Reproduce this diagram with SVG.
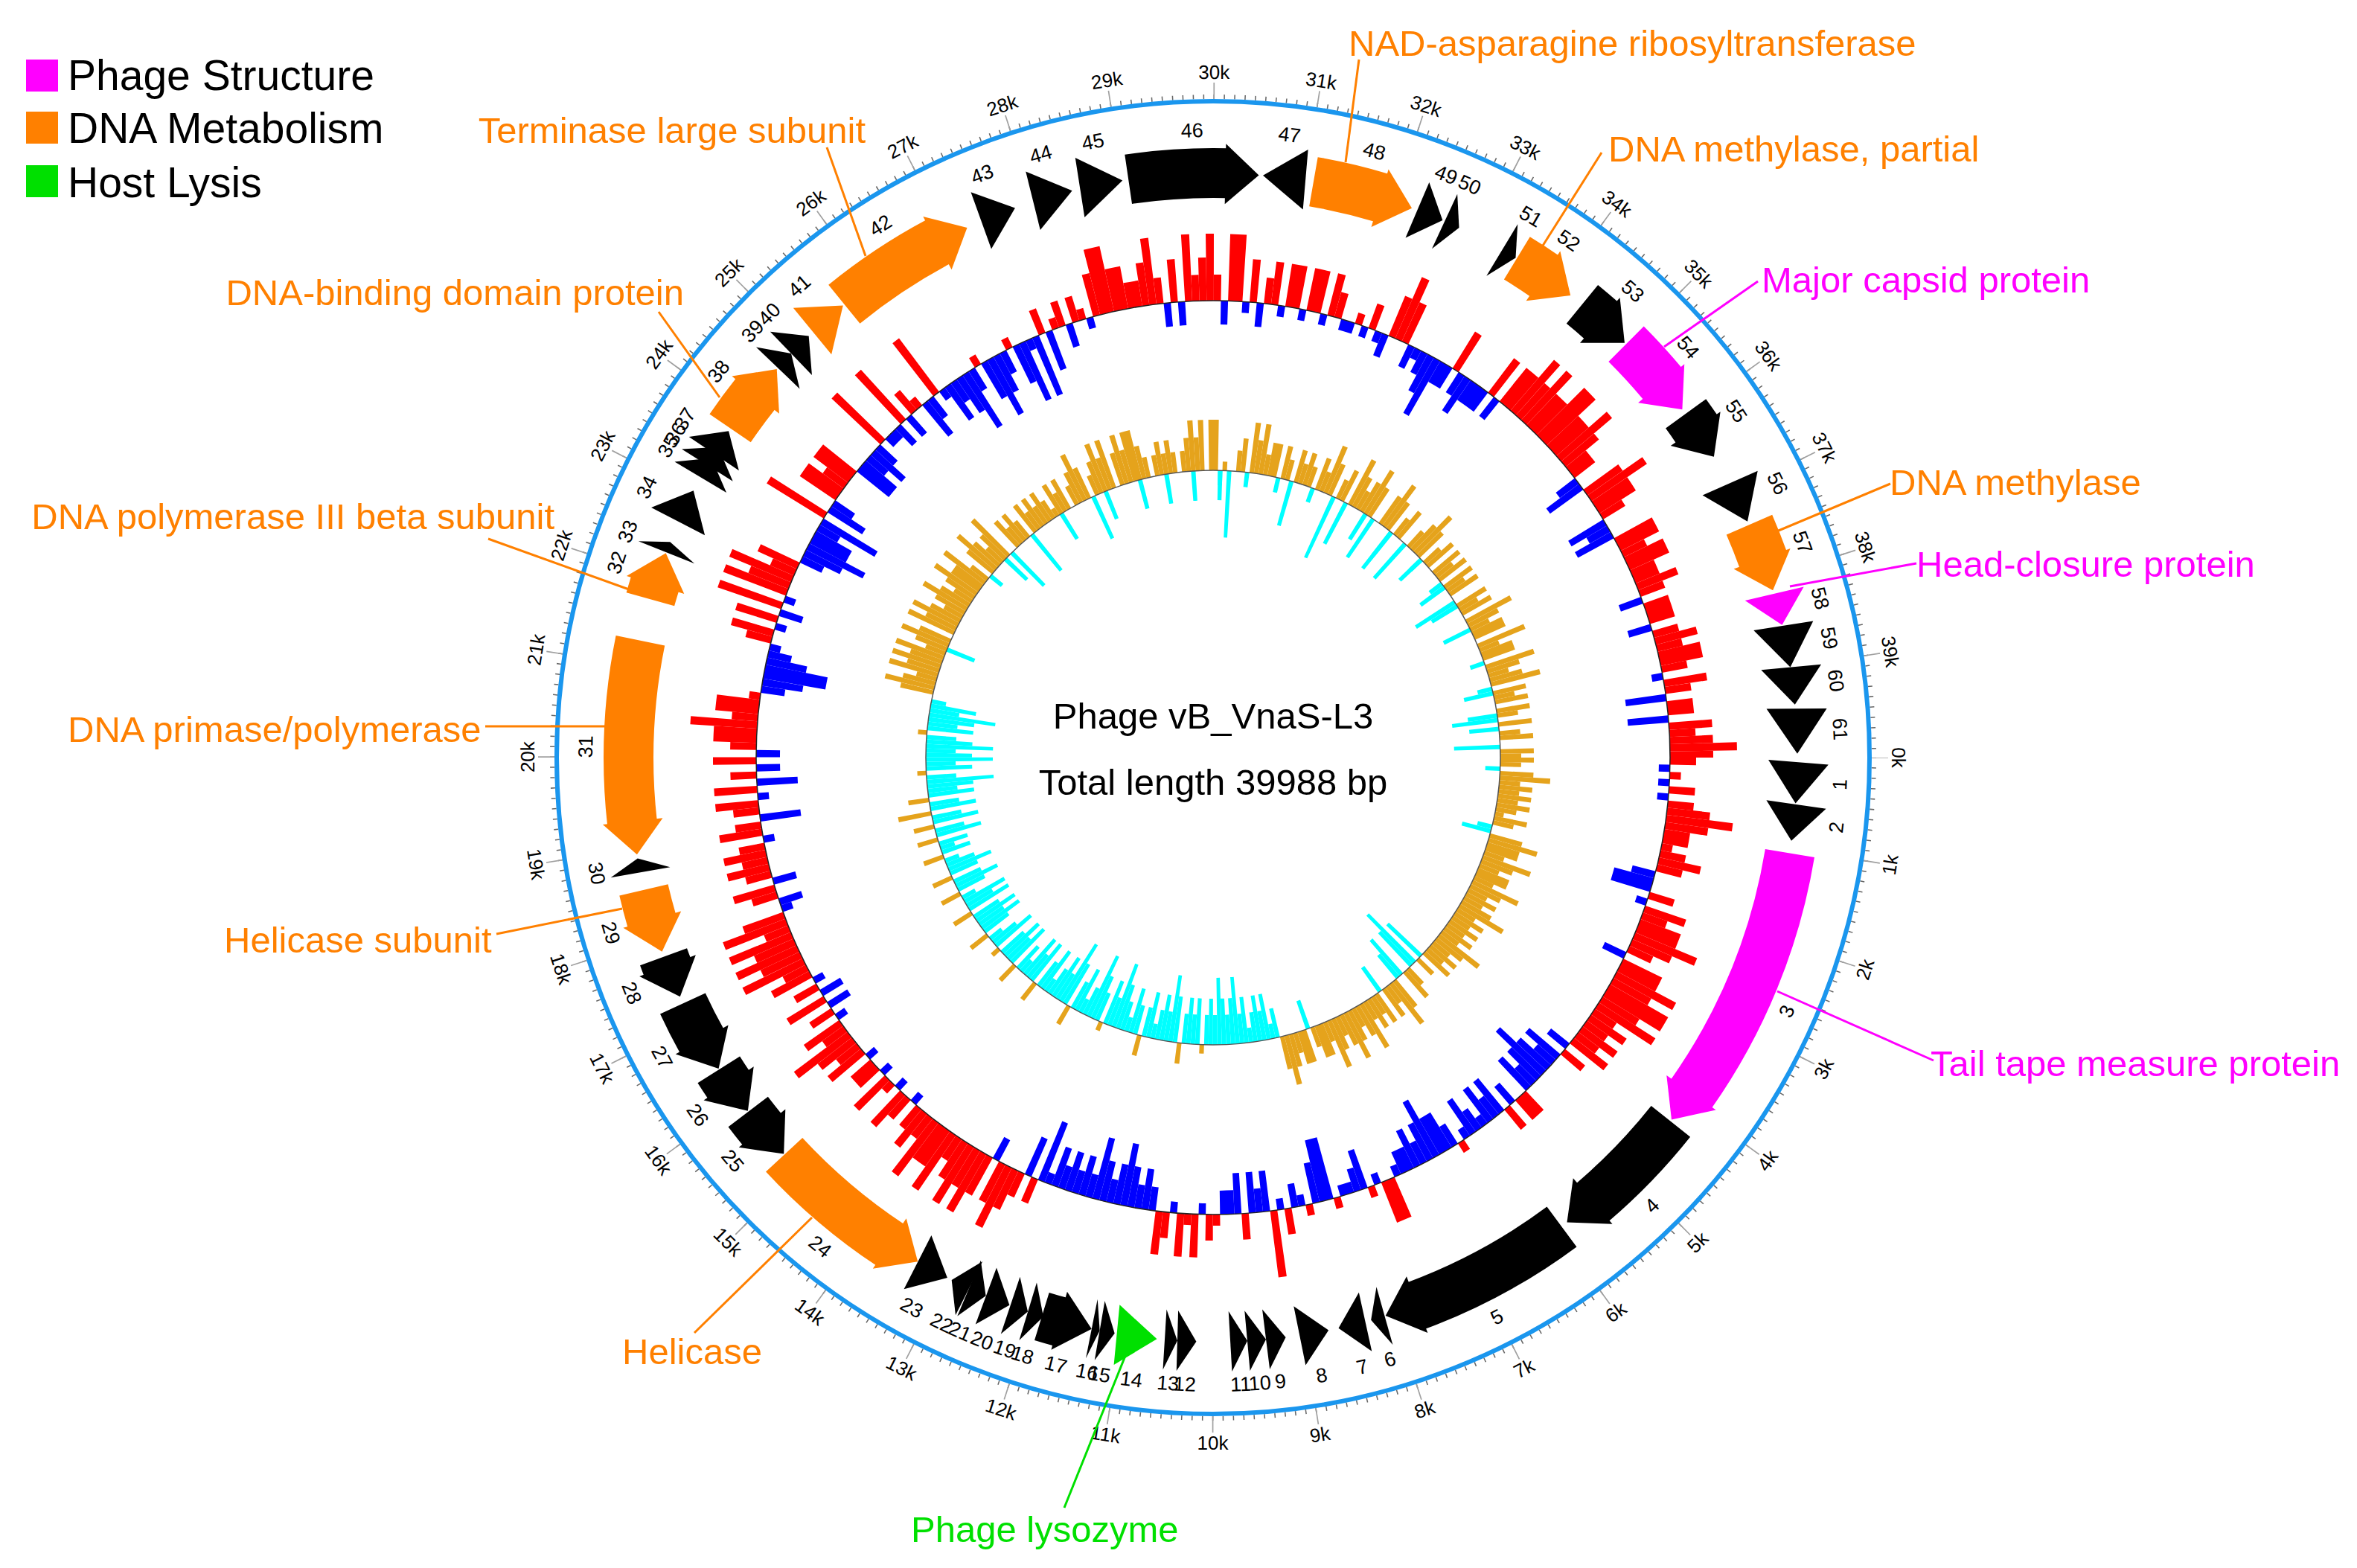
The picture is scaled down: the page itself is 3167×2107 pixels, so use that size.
<svg xmlns="http://www.w3.org/2000/svg" width="3167" height="2107" viewBox="0 0 3167 2107">
<style>
text{font-family:"Liberation Sans",Arial,sans-serif;fill:#000}
.gl{font-size:27px;text-anchor:middle;dominant-baseline:central}
.tk{font-size:26px;text-anchor:middle;dominant-baseline:central}
.an{font-size:49px}
.lg{font-size:57px}
.ct{font-size:49px;text-anchor:middle}
.or{fill:#ff8000}.mg{fill:#ff00ff}.gr{fill:#00e000}
text.or{fill:#ff8000}text.mg{fill:#ff00ff}text.gr{fill:#00e000}
.bd{fill:none;stroke-width:67}
.sb{stroke:#000}.so{stroke:#ff8000}.sm{stroke:#ff00ff}.sg{stroke:#00e000}
.ld{stroke-width:3;fill:none}
.rg circle{fill:none}
</style>
<defs>
<path id="h" d="M785 0L823.6 -47.3L742.8 -42.6Z"/>
<path id="t" d="M785 0L825 -1L744 -1Z"/>
</defs>
<rect width="3167" height="2107" fill="#fff"/>
<g id="legend">
<rect x="35" y="80" width="43" height="43" fill="#ff00ff"/>
<rect x="35" y="150" width="43" height="43" fill="#ff8000"/>
<rect x="35" y="222" width="43" height="43" fill="#00e000"/>
<text class="lg" x="91" y="121">Phage Structure</text>
<text class="lg" x="91" y="192">DNA Metabolism</text>
<text class="lg" x="91" y="265">Host Lysis</text>
</g>
<g id="map" transform="translate(1630 1018)">
<g id="scale" class="rg">
<circle r="888" stroke="#666" stroke-width="6" pathLength="39988" stroke-dasharray="11 89" stroke-dashoffset="5.5"/>
<circle r="896" stroke="#a0a0a0" stroke-width="22" pathLength="39988" stroke-dasharray="12 988" stroke-dashoffset="6"/>
<circle r="882" stroke="#1a96ee" stroke-width="6"/>
<text class="tk" transform="rotate(0) translate(921) rotate(90)">0k</text>
<text class="tk" transform="rotate(9.003) translate(921) rotate(-90)">1k</text>
<text class="tk" transform="rotate(18.005) translate(921) rotate(-90)">2k</text>
<text class="tk" transform="rotate(27.008) translate(921) rotate(-90)">3k</text>
<text class="tk" transform="rotate(36.011) translate(921) rotate(-90)">4k</text>
<text class="tk" transform="rotate(45.014) translate(921) rotate(-90)">5k</text>
<text class="tk" transform="rotate(54.016) translate(921) rotate(-90)">6k</text>
<text class="tk" transform="rotate(63.019) translate(921) rotate(-90)">7k</text>
<text class="tk" transform="rotate(72.022) translate(921) rotate(-90)">8k</text>
<text class="tk" transform="rotate(81.024) translate(921) rotate(-90)">9k</text>
<text class="tk" transform="rotate(90.027) translate(921) rotate(-90)">10k</text>
<text class="tk" transform="rotate(99.030) translate(921) rotate(-90)">11k</text>
<text class="tk" transform="rotate(108.032) translate(921) rotate(-90)">12k</text>
<text class="tk" transform="rotate(117.035) translate(921) rotate(-90)">13k</text>
<text class="tk" transform="rotate(126.038) translate(921) rotate(-90)">14k</text>
<text class="tk" transform="rotate(135.041) translate(921) rotate(-90)">15k</text>
<text class="tk" transform="rotate(144.043) translate(921) rotate(-90)">16k</text>
<text class="tk" transform="rotate(153.046) translate(921) rotate(-90)">17k</text>
<text class="tk" transform="rotate(162.049) translate(921) rotate(-90)">18k</text>
<text class="tk" transform="rotate(171.051) translate(921) rotate(-90)">19k</text>
<text class="tk" transform="rotate(180.054) translate(921) rotate(90)">20k</text>
<text class="tk" transform="rotate(189.057) translate(921) rotate(90)">21k</text>
<text class="tk" transform="rotate(198.059) translate(921) rotate(90)">22k</text>
<text class="tk" transform="rotate(207.062) translate(921) rotate(90)">23k</text>
<text class="tk" transform="rotate(216.065) translate(921) rotate(90)">24k</text>
<text class="tk" transform="rotate(225.068) translate(921) rotate(90)">25k</text>
<text class="tk" transform="rotate(234.070) translate(921) rotate(90)">26k</text>
<text class="tk" transform="rotate(243.073) translate(921) rotate(90)">27k</text>
<text class="tk" transform="rotate(252.076) translate(921) rotate(90)">28k</text>
<text class="tk" transform="rotate(261.078) translate(921) rotate(90)">29k</text>
<text class="tk" transform="rotate(270.081) translate(921) rotate(90)">30k</text>
<text class="tk" transform="rotate(279.084) translate(921) rotate(90)">31k</text>
<text class="tk" transform="rotate(288.086) translate(921) rotate(90)">32k</text>
<text class="tk" transform="rotate(297.089) translate(921) rotate(90)">33k</text>
<text class="tk" transform="rotate(306.092) translate(921) rotate(90)">34k</text>
<text class="tk" transform="rotate(315.095) translate(921) rotate(90)">35k</text>
<text class="tk" transform="rotate(324.097) translate(921) rotate(90)">36k</text>
<text class="tk" transform="rotate(333.100) translate(921) rotate(90)">37k</text>
<text class="tk" transform="rotate(342.103) translate(921) rotate(90)">38k</text>
<text class="tk" transform="rotate(351.105) translate(921) rotate(90)">39k</text>
</g>
<g id="gc-content" class="rg">
<circle r="621.5" stroke="#ff0000" stroke-width="15" pathLength="399.88" stroke-dasharray="0 2 1 9 1 50 1 13 1 4 1 3 1 12 1 3 1 45 1 58 1 46 1 9 1 4 1 6 1 3 1 38 1 400"/>
<circle r="631.5" stroke="#ff0000" stroke-width="35" pathLength="399.88" stroke-dasharray="1 3 1 1 1 3 2 1 1 1 1 3 1 2 1 4 1 9 1 1 1 1 1 2 1 7 2 1 1 33 1 5 1 4 1 5 1 18 1 1 1 9 1 4 1 1 1 1 1 5 2 2 1 2 1 2 1 3 1 2 1 5 1 4 1 2 1 1 1 1 1 2 1 1 1 4 1 3 1 3 1 10 1 9 1 13 1 13 1 20 1 2 1 1 1 7 2 2 1 4 1 2 1 6 1 9 1 4 1 33 2 6 1 5 1 2 2 1 1 1 3 1 1 1 1 2 1 2 1 1 2 2 1 400"/>
<circle r="643" stroke="#ff0000" stroke-width="58" pathLength="399.88" stroke-dasharray="0 7 1 1 1 4 1 6 1 1 2 1 1 2 2 1 1 2 1 2 1 1 1 1 1 31 2 26 1 1 1 2 1 20 1 1 1 1 1 1 1 1 1 2 2 2 1 3 1 2 1 4 1 1 1 2 1 3 1 3 1 2 1 1 1 3 1 3 1 2 1 1 1 2 1 3 1 1 1 3 1 2 2 2 2 9 1 1 1 4 1 2 1 10 2 1 2 40 1 2 2 2 1 3 1 3 1 6 1 2 1 1 2 1 2 1 1 8 1 1 1 7 1 5 1 1 2 1 1 1 2 2 2 1 1 4 1 1 2 4 2 1 2 2 1 7 1 1 2 2 1 5 1 1 1 1 1 400"/>
<circle r="659" stroke="#ff0000" stroke-width="90" pathLength="399.88" stroke-dasharray="0 8 1 16 1 5 1 1 2 1 1 54 1 37 1 3 1 1 1 2 1 2 1 16 1 11 1 1 1 1 1 1 1 27 1 16 1 1 1 1 1 9 1 12 1 3 1 5 1 25 2 5 1 4 1 2 1 2 2 22 1 18 1 1 1 2 2 2 1 6 1 36 1 400"/>
<circle r="606.5" stroke="#0000ff" stroke-width="15" pathLength="399.88" stroke-dasharray="0 1 1 1 1 1 1 14 1 38 1 2 1 10 1 2 1 3 2 5 1 2 1 10 1 3 1 17 1 21 1 2 1 2 1 2 1 6 1 5 1 10 1 9 1 5 1 20 1 2 1 3 1 26 2 8 1 13 1 8 1 21 1 4 1 2 1 2 1 2 2 1 1 1 1 5 1 58 1 400"/>
<circle r="598" stroke="#0000ff" stroke-width="32" pathLength="399.88" stroke-dasharray="0 16 1 11 1 14 1 2 1 3 1 3 1 2 1 2 1 3 1 4 1 1 2 6 1 8 1 4 1 3 2 9 1 1 1 3 1 2 1 1 1 1 1 9 1 31 1 1 1 13 1 2 1 15 1 1 1 8 1 4 1 5 1 7 1 4 1 3 1 7 1 1 1 3 1 1 1 3 1 3 1 2 1 4 1 9 1 13 1 1 1 5 1 4 1 17 1 3 1 1 1 2 2 1 1 1 3 1 1 15 1 7 1 10 1 3 1 400"/>
<circle r="586.5" stroke="#0000ff" stroke-width="55" pathLength="399.88" stroke-dasharray="0 17 2 26 1 1 1 1 1 1 1 4 1 1 1 2 1 3 2 1 1 1 1 7 1 6 1 6 1 1 1 1 1 12 1 1 1 1 1 1 1 2 1 1 1 1 1 3 1 64 1 4 1 13 1 2 1 15 1 1 2 3 1 6 2 1 1 9 1 3 1 1 1 3 1 1 1 2 1 4 1 54 1 5 1 21 1 5 1 1 1 23 1 2 1 400"/>
<circle r="571.5" stroke="#0000ff" stroke-width="85" pathLength="399.88" stroke-dasharray="0 48 1 18 1 15 2 27 1 3 1 7 1 86 2 17 1 3 1 28 1 3 1 4 1 1 1 57 1 400"/>
<circle r="614" stroke="#222" stroke-width="1.5"/>
</g>
<g id="gc-skew" class="rg">
<circle r="392" stroke="#e5a31c" stroke-width="12" pathLength="399.88" stroke-dasharray="0 12 1 89 1 22 1 27 1 42 1 8 1 57 1 38 1 400"/>
<circle r="400" stroke="#e5a31c" stroke-width="28" pathLength="399.88" stroke-dasharray="0 1 1 3 1 1 1 1 1 1 1 2 1 6 1 2 1 2 1 2 1 1 1 2 1 1 1 1 1 1 1 2 1 1 1 2 1 2 1 5 1 3 1 1 1 2 1 3 1 2 1 2 1 3 1 25 1 8 1 16 1 8 1 5 1 8 1 5 1 4 1 3 1 4 1 3 1 2 1 5 1 26 1 5 1 8 1 3 1 5 1 4 1 5 1 1 1 2 1 1 1 1 1 2 1 2 1 4 1 11 1 1 1 1 1 1 1 1 1 11 1 5 1 4 1 2 1 1 1 2 1 3 1 4 1 9 1 3 1 4 1 3 1 3 1 4 1 4 1 4 1 5 1 4 1 3 1 3 1 4 1 400"/>
<circle r="408.5" stroke="#e5a31c" stroke-width="45" pathLength="399.88" stroke-dasharray="1 2 1 2 1 1 1 1 1 2 1 3 1 1 2 2 1 1 2 2 1 1 1 1 1 2 1 1 1 1 1 2 1 1 1 1 1 5 1 2 1 2 1 1 1 1 1 2 1 1 1 1 1 1 1 2 2 2 2 1 1 1 1 102 1 26 1 1 1 2 1 1 1 2 1 1 1 2 1 1 1 1 1 1 1 1 1 1 2 3 1 1 1 1 1 3 1 1 1 2 1 1 1 1 1 2 1 1 1 2 1 1 1 2 1 1 1 2 1 1 1 2 1 3 1 1 1 3 1 1 1 9 1 2 1 2 2 1 1 2 1 1 1 2 1 2 1 2 1 2 1 1 1 1 1 2 1 1 1 2 1 3 1 1 1 2 1 1 1 1 1 1 1 1 1 2 1 1 1 2 1 1 2 3 2 2 1 1 1 2 1 1 1 1 1 2 1 2 1 2 1 400"/>
<circle r="420" stroke="#e5a31c" stroke-width="68" pathLength="399.88" stroke-dasharray="0 4 1 13 1 3 1 5 1 5 1 7 1 14 1 7 1 3 1 3 1 9 1 131 1 2 1 1 1 1 1 2 1 2 1 1 1 3 1 3 1 2 1 3 1 3 1 20 1 4 1 1 1 2 1 1 2 11 1 1 1 1 2 7 1 1 1 14 1 5 1 3 1 4 1 8 1 18 1 5 1 4 1 3 1 400"/>
<circle r="376" stroke="#00ffff" stroke-width="20" pathLength="399.88" stroke-dasharray="0 2 1 12 1 70 1 4 1 21 1 5 1 10 1 8 1 6 1 9 1 10 1 8 1 2 1 32 1 30 1 57 1 5 1 6 1 7 1 28 1 6 1 19 1 5 1 400"/>
<circle r="366" stroke="#00ffff" stroke-width="40" pathLength="399.88" stroke-dasharray="0 16 1 38 1 4 1 17 1 6 1 2 1 1 1 2 1 2 1 2 1 1 1 2 1 1 1 3 1 1 1 2 1 1 1 2 1 2 1 2 1 2 1 2 1 3 1 1 1 2 1 2 1 2 1 2 1 1 1 2 1 2 1 1 1 1 1 2 1 3 1 1 1 1 1 1 1 2 1 1 1 2 1 2 1 2 1 2 1 2 1 2 1 2 1 2 1 2 1 2 1 13 1 23 1 15 1 10 1 7 1 5 1 5 1 5 1 33 1 6 1 8 1 7 1 4 1 5 1 14 1 4 1 2 1 400"/>
<circle r="355" stroke="#00ffff" stroke-width="62" pathLength="399.88" stroke-dasharray="0 48 1 2 1 2 1 32 1 1 1 2 1 2 1 1 1 2 1 2 1 1 1 2 1 2 1 2 1 3 1 2 1 2 1 2 1 3 1 2 1 2 1 2 1 2 1 1 1 3 1 1 1 2 1 4 1 1 1 2 1 1 1 3 1 3 1 7 1 2 1 2 1 2 1 1 1 3 1 2 1 2 1 2 1 1 1 2 1 38 1 5 1 15 1 44 1 12 1 6 1 4 1 3 1 16 1 27 1 5 1 400"/>
<circle r="341" stroke="#00ffff" stroke-width="90" pathLength="399.88" stroke-dasharray="0 50 1 43 1 3 1 10 1 12 1 5 1 6 1 58 1 4 1 2 1 6 1 93 1 23 1 400"/>
<circle r="386" stroke="#555" stroke-width="1.5"/>
</g>
<g id="genes">
<g id="gene-1"><use href="#t" transform="rotate(4.501) scale(1 55.5)"/><text class="gl" transform="rotate(2.476) translate(843) rotate(-90)">1</text></g>
<g id="gene-2"><use href="#t" transform="rotate(8.192) scale(1 49.3)"/><text class="gl" transform="rotate(6.392) translate(843) rotate(-90)">2</text></g>
<g id="gene-3"><circle class="bd sm" r="785.5" pathLength="39988" stroke-dasharray="0 1046 2859 99999"/><use href="#h" class="mg" transform="rotate(38.306)"/><text class="gl" transform="rotate(23.857) translate(843) rotate(-90)">3</text></g>
<g id="gene-4"><circle class="bd sb" r="785.5" pathLength="39988" stroke-dasharray="0 4275 1231 99999"/><use href="#h" transform="rotate(52.72)"/><text class="gl" transform="rotate(45.599) translate(843) rotate(-90)">4</text></g>
<g id="gene-5"><circle class="bd sb" r="785.5" pathLength="39988" stroke-dasharray="0 5930 1810 99999"/><use href="#h" transform="rotate(72.832)"/><text class="gl" transform="rotate(63.109) translate(843) rotate(-90)">5</text></g>
<g id="gene-6"><use href="#t" transform="rotate(74.317) scale(1 19.1)"/><text class="gl" transform="rotate(73.624) translate(843) rotate(-90)">6</text></g>
<g id="gene-7"><use href="#t" transform="rotate(77.603) scale(1 37)"/><text class="gl" transform="rotate(76.253) translate(843) rotate(-90)">7</text></g>
<g id="gene-8"><use href="#t" transform="rotate(78.603) scale(1 -39.5)"/><text class="gl" transform="rotate(80.043) translate(843) rotate(-90)">8</text></g>
<g id="gene-9"><use href="#t" transform="rotate(82.861) scale(1 -26.6)"/><text class="gl" transform="rotate(83.833) translate(843) rotate(-90)">9</text></g>
<g id="gene-10"><use href="#t" transform="rotate(84.805) scale(1 -25.2)"/><text class="gl" transform="rotate(85.724) translate(843) rotate(-90)">10</text></g>
<g id="gene-11"><use href="#t" transform="rotate(86.642) scale(1 -22.9)"/><text class="gl" transform="rotate(87.479) translate(843) rotate(-90)">11</text></g>
<g id="gene-12"><use href="#t" transform="rotate(91.648) scale(1 -25.5)"/><text class="gl" transform="rotate(92.584) translate(843) rotate(-90)">12</text></g>
<g id="gene-13"><use href="#t" transform="rotate(93.511) scale(1 -17)"/><text class="gl" transform="rotate(94.132) translate(843) rotate(-90)">13</text></g>
<g id="gene-14"><use href="#t" class="gr" transform="rotate(95.519) scale(1 -54.3)"/><text class="gl" transform="rotate(97.499) translate(843) rotate(-90)">14</text></g>
<g id="gene-15"><use href="#t" transform="rotate(99.705) scale(1 -20.4)"/><text class="gl" transform="rotate(100.452) translate(843) rotate(-90)">15</text></g>
<g id="gene-16"><use href="#t" transform="rotate(101.19) scale(1 -11.1)"/><text class="gl" transform="rotate(101.595) translate(843) rotate(-90)">16</text></g>
<g id="gene-17"><circle class="bd sb" r="785.5" pathLength="39988" stroke-dasharray="0 11680 210 99999"/><use href="#h" transform="rotate(102.001) scale(1 -1)"/><text class="gl" transform="rotate(104.521) translate(843) rotate(-90)">17</text></g>
<g id="gene-18"><use href="#t" transform="rotate(106.889) scale(1 -21.8)"/><text class="gl" transform="rotate(107.69) translate(843) rotate(-90)">18</text></g>
<g id="gene-19"><use href="#t" transform="rotate(108.492) scale(1 -24.8)"/><text class="gl" transform="rotate(109.401) translate(843) rotate(-90)">19</text></g>
<g id="gene-20"><use href="#t" transform="rotate(110.4) scale(1 -33.8)"/><text class="gl" transform="rotate(111.633) translate(843) rotate(-90)">20</text></g>
<g id="gene-21"><use href="#t" transform="rotate(112.894) scale(1 -24.7)"/><text class="gl" transform="rotate(113.794) translate(843) rotate(-90)">21</text></g>
<g id="gene-22"><use href="#t" transform="rotate(116.585) scale(1 25.9)"/><text class="gl" transform="rotate(115.64) translate(843) rotate(-90)">22</text></g>
<g id="gene-23"><use href="#t" transform="rotate(117.062) scale(1 -45)"/><text class="gl" transform="rotate(118.71) translate(843) rotate(-90)">23</text></g>
<g id="gene-24"><circle class="bd so" r="785.5" pathLength="39988" stroke-dasharray="0 13720 1520 99999"/><use href="#h" class="or" transform="rotate(120.366) scale(1 -1)"/><text class="gl" transform="rotate(128.784) translate(843) rotate(-90)">24</text></g>
<g id="gene-25"><circle class="bd sb" r="785.5" pathLength="39988" stroke-dasharray="0 15600 250 99999"/><use href="#h" transform="rotate(137.291) scale(1 -1)"/><text class="gl" transform="rotate(139.992) translate(843) rotate(-90)">25</text></g>
<g id="gene-26"><circle class="bd sb" r="785.5" pathLength="39988" stroke-dasharray="0 16210 200 99999"/><use href="#h" transform="rotate(142.783) scale(1 -1)"/><text class="gl" transform="rotate(145.259) translate(843) rotate(-90)">26</text></g>
<g id="gene-27"><circle class="bd sb" r="785.5" pathLength="39988" stroke-dasharray="0 16770 460 99999"/><use href="#h" transform="rotate(147.824) scale(1 -1)"/><text class="gl" transform="rotate(151.47) translate(843) rotate(-90)">27</text></g>
<g id="gene-28"><circle class="bd sb" r="785.5" pathLength="39988" stroke-dasharray="0 17660 120 99999"/><use href="#h" transform="rotate(155.837) scale(1 -1)"/><text class="gl" transform="rotate(157.952) translate(843) rotate(-90)">28</text></g>
<g id="gene-29"><circle class="bd so" r="785.5" pathLength="39988" stroke-dasharray="0 18190 350 99999"/><use href="#h" class="or" transform="rotate(160.608) scale(1 -1)"/><text class="gl" transform="rotate(163.76) translate(843) rotate(-90)">29</text></g>
<g id="gene-30"><use href="#t" transform="rotate(170.061) scale(1 19.1)"/><text class="gl" transform="rotate(169.359) translate(843) rotate(-90)">30</text></g>
<g id="gene-31"><circle class="bd so" r="785.5" pathLength="39988" stroke-dasharray="0 19284 1993 99999"/><use href="#h" class="or" transform="rotate(170.457) scale(1 -1)"/><text class="gl" transform="rotate(180.999) translate(843) rotate(90)">31</text></g>
<g id="gene-32"><circle class="bd so" r="785.5" pathLength="39988" stroke-dasharray="0 21740 180 99999"/><use href="#h" class="or" transform="rotate(200.49)"/><text class="gl" transform="rotate(198.104) translate(843) rotate(90)">32</text></g>
<g id="gene-33"><use href="#t" transform="rotate(201.66) scale(1 14.8)"/><text class="gl" transform="rotate(201.12) translate(843) rotate(90)">33</text></g>
<g id="gene-34"><use href="#t" transform="rotate(207.197) scale(1 46.3)"/><text class="gl" transform="rotate(205.514) translate(843) rotate(90)">34</text></g>
<g id="gene-35"><use href="#t" transform="rotate(210.843) scale(1 29.6)"/><text class="gl" transform="rotate(209.763) translate(843) rotate(90)">35</text></g>
<g id="gene-36"><use href="#t" transform="rotate(212.104) scale(1 28.4)"/><text class="gl" transform="rotate(211.068) translate(843) rotate(90)">36</text></g>
<g id="gene-37"><use href="#t" transform="rotate(213.976) scale(1 36.1)"/><text class="gl" transform="rotate(212.644) translate(843) rotate(90)">37</text></g>
<g id="gene-38"><circle class="bd so" r="785.5" pathLength="39988" stroke-dasharray="0 23804 470 99999"/><use href="#h" class="or" transform="rotate(221.683)"/><text class="gl" transform="rotate(217.991) translate(843) rotate(90)">38</text></g>
<g id="gene-39"><use href="#t" transform="rotate(223.762) scale(1 26.3)"/><text class="gl" transform="rotate(222.799) translate(843) rotate(90)">39</text></g>
<g id="gene-40"><use href="#t" transform="rotate(226.202) scale(1 33.4)"/><text class="gl" transform="rotate(224.977) translate(843) rotate(90)">40</text></g>
<g id="gene-41"><use href="#t" class="or" transform="rotate(230.694) scale(1 53.7)"/><text class="gl" transform="rotate(228.741) translate(843) rotate(90)">41</text></g>
<g id="gene-42"><circle class="bd so" r="785.5" pathLength="39988" stroke-dasharray="0 25645 1230 99999"/><use href="#h" class="or" transform="rotate(245.099)"/><text class="gl" transform="rotate(237.986) translate(843) rotate(90)">42</text></g>
<g id="gene-43"><use href="#t" transform="rotate(250.185) scale(1 48.7)"/><text class="gl" transform="rotate(248.403) translate(843) rotate(90)">43</text></g>
<g id="gene-44"><use href="#t" transform="rotate(256.037) scale(1 54.3)"/><text class="gl" transform="rotate(254.054) translate(843) rotate(90)">44</text></g>
<g id="gene-45"><use href="#t" transform="rotate(261.078) scale(1 58)"/><text class="gl" transform="rotate(258.963) translate(843) rotate(90)">45</text></g>
<g id="gene-46"><circle class="bd sb" r="785.5" pathLength="39988" stroke-dasharray="0 29065 1075 99999"/><use href="#h" transform="rotate(274.492)"/><text class="gl" transform="rotate(268.082) translate(843) rotate(90)">46</text></g>
<g id="gene-47"><use href="#t" transform="rotate(274.898) scale(1 -57.4)"/><text class="gl" transform="rotate(276.995) translate(843) rotate(90)">47</text></g>
<g id="gene-48"><circle class="bd so" r="785.5" pathLength="39988" stroke-dasharray="0 31090 760 99999"/><use href="#h" class="or" transform="rotate(289.887)"/><text class="gl" transform="rotate(284.89) translate(843) rotate(90)">48</text></g>
<g id="gene-49"><use href="#t" transform="rotate(293.128) scale(1 36.6)"/><text class="gl" transform="rotate(291.796) translate(843) rotate(90)">49</text></g>
<g id="gene-50"><use href="#t" transform="rotate(294.901) scale(1 21.2)"/><text class="gl" transform="rotate(294.128) translate(843) rotate(90)">50</text></g>
<g id="gene-51"><use href="#t" transform="rotate(301.185) scale(1 21)"/><text class="gl" transform="rotate(300.42) translate(843) rotate(90)">51</text></g>
<g id="gene-52"><circle class="bd so" r="785.5" pathLength="39988" stroke-dasharray="0 33470 360 99999"/><use href="#h" class="or" transform="rotate(307.712)"/><text class="gl" transform="rotate(304.516) translate(843) rotate(90)">52</text></g>
<g id="gene-53"><circle class="bd sb" r="785.5" pathLength="39988" stroke-dasharray="0 34340 275 99999"/><use href="#h" transform="rotate(314.779)"/><text class="gl" transform="rotate(311.971) translate(843) rotate(90)">53</text></g>
<g id="gene-54"><circle class="bd sm" r="785.5" pathLength="39988" stroke-dasharray="0 34985 590 99999"/><use href="#h" class="mg" transform="rotate(323.422)"/><text class="gl" transform="rotate(319.191) translate(843) rotate(90)">54</text></g>
<g id="gene-55"><circle class="bd sb" r="785.5" pathLength="39988" stroke-dasharray="0 35985 210 99999"/><use href="#h" transform="rotate(329.004)"/><text class="gl" transform="rotate(326.483) translate(843) rotate(90)">55</text></g>
<g id="gene-56"><use href="#t" transform="rotate(336.161) scale(1 56.7)"/><text class="gl" transform="rotate(334.09) translate(843) rotate(90)">56</text></g>
<g id="gene-57"><circle class="bd so" r="785.5" pathLength="39988" stroke-dasharray="0 37380 410 99999"/><use href="#h" class="or" transform="rotate(343.363)"/><text class="gl" transform="rotate(339.942) translate(843) rotate(90)">57</text></g>
<g id="gene-58"><use href="#t" class="mg" transform="rotate(346.874) scale(1 43.2)"/><text class="gl" transform="rotate(345.299) translate(843) rotate(90)">58</text></g>
<g id="gene-59"><use href="#t" transform="rotate(351.105) scale(1 56.7)"/><text class="gl" transform="rotate(349.035) translate(843) rotate(90)">59</text></g>
<g id="gene-60"><use href="#t" transform="rotate(354.796) scale(1 50.6)"/><text class="gl" transform="rotate(352.951) translate(843) rotate(90)">60</text></g>
<g id="gene-61"><use href="#t" transform="rotate(359.613) scale(1 60.4)"/><text class="gl" transform="rotate(357.407) translate(843) rotate(90)">61</text></g>
</g>
</g>
<g id="connectors" class="ld">
<line class="so" x1="1826" y1="80" x2="1808" y2="218"/>
<line class="so" x1="1111" y1="198" x2="1163" y2="344"/>
<line class="so" x1="885" y1="419" x2="967" y2="534"/>
<line class="so" x1="656" y1="724" x2="845" y2="792"/>
<line class="so" x1="652" y1="976" x2="815" y2="976"/>
<line class="so" x1="667" y1="1255" x2="836" y2="1221"/>
<line class="so" x1="933" y1="1791" x2="1091" y2="1636"/>
<line class="sg" x1="1430" y1="2026" x2="1512" y2="1822"/>
<line class="sm" x1="2388" y1="1332" x2="2598" y2="1425"/>
<line class="sm" x1="2575" y1="757" x2="2405" y2="788"/>
<line class="so" x1="2540" y1="650" x2="2385" y2="715"/>
<line class="sm" x1="2362" y1="378" x2="2236" y2="466"/>
<line class="so" x1="2152" y1="205" x2="2073" y2="330"/>
</g>
<g id="annotations">
<text class="an or" x="1812" y="75">NAD-asparagine ribosyltransferase</text>
<text class="an or" x="1163" y="192" text-anchor="end">Terminase large subunit</text>
<text class="an or" x="919" y="410" text-anchor="end">DNA-binding domain protein</text>
<text class="an or" x="745" y="711" text-anchor="end">DNA polymerase III beta subunit</text>
<text class="an or" x="91" y="997">DNA primase/polymerase</text>
<text class="an or" x="301" y="1280">Helicase subunit</text>
<text class="an or" x="836" y="1833">Helicase</text>
<text class="an gr" x="1224" y="2072">Phage lysozyme</text>
<text class="an mg" x="2594" y="1446">Tail tape measure protein</text>
<text class="an mg" x="2575" y="775">Head-closure protein</text>
<text class="an or" x="2539" y="665">DNA methylase</text>
<text class="an mg" x="2367" y="393">Major capsid protein</text>
<text class="an or" x="2161" y="217">DNA methylase, partial</text>
</g>
<g id="title">
<text class="ct" x="1630" y="979">Phage vB_VnaS-L3</text>
<text class="ct" x="1630" y="1068">Total length 39988 bp</text>
</g>
</svg>
